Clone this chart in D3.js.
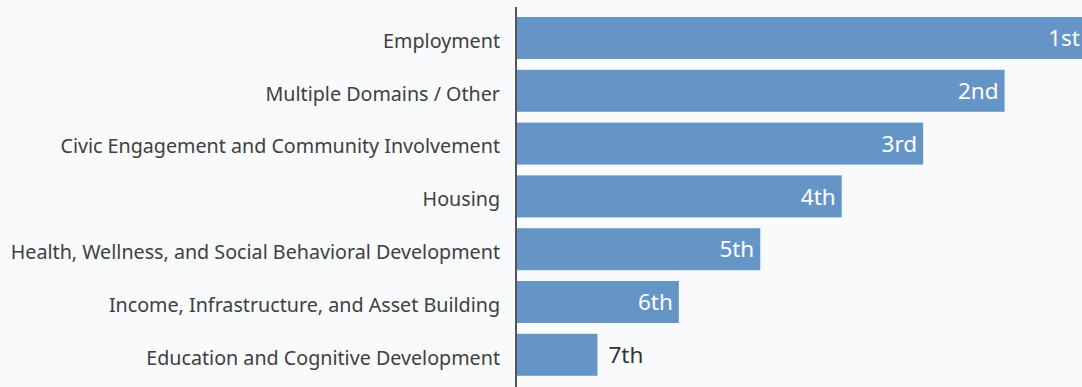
<!DOCTYPE html>
<html>
<head>
<meta charset="utf-8">
<script src="https://cdn.jsdelivr.net/npm/d3@7"></script>
<style>
  html, body { margin: 0; padding: 0; background: #f8fafc; }
  svg { display: block; }
</style>
</head>
<body>
<svg id="chart" width="1082" height="387"></svg>
<script>
// Domains, their relative scores and rank labels
const categories = [
  "Employment",
  "Multiple Domains / Other",
  "Civic Engagement and Community Involvement",
  "Housing",
  "Health, Wellness, and Social Behavioral Development",
  "Income, Infrastructure, and Asset Building",
  "Education and Cognitive Development"
];
const scores = [7, 6, 5, 4, 3, 2, 1];
const rankLabels = ["1st", "2nd", "3rd", "4th", "5th", "6th", "7th"];

const W = 1082, H = 387;
const axisX = 516;
const svg = d3.select("#chart");
const g = svg.append("g").attr("transform", `translate(${axisX},0)`);

const data = categories.map((c, i) => ({ cat: c, score: scores[i], rank: rankLabels[i] }));

const x = d3.scaleLinear().domain([0, 7]).range([0, 570]);
const y = d3.scaleBand().domain(categories).range([11.6, 381.2]).paddingInner(0.205).paddingOuter(0.1025);

const barColor = "#6595c7";
const font = "'Noto Sans', 'Open Sans', sans-serif";

g.selectAll("rect.bar")
  .data(data)
  .join("rect")
  .attr("class", "bar")
  .attr("x", 0)
  .attr("y", d => y(d.cat))
  .attr("width", d => x(d.score))
  .attr("height", y.bandwidth())
  .attr("fill", barColor);

// Rank labels: inside the bar when it is wide enough, otherwise just past its end
g.selectAll("text.rank")
  .data(data)
  .join("text")
  .attr("class", "rank")
  .attr("x", d => x(d.score) > 120 ? x(d.score) - 6 : x(d.score) + 11)
  .attr("y", d => y(d.cat) + y.bandwidth() / 2)
  .attr("dy", "0.36em")
  .attr("text-anchor", d => x(d.score) > 120 ? "end" : "start")
  .attr("fill", d => x(d.score) > 120 ? "#ffffff" : "#333333")
  .style("font-family", font)
  .style("font-size", "22.5px")
  .text(d => d.rank);

// Category axis: a plain vertical rule with labels
const axis = g.append("g")
  .call(d3.axisLeft(y).tickSize(0).tickPadding(16));
axis.select(".domain")
  .attr("d", `M0,7V${H}`)
  .attr("stroke", "#555")
  .attr("stroke-width", 2);
axis.selectAll(".tick text")
  .attr("fill", "#404040")
  .attr("dy", "0.5em")
  .style("font-family", font)
  .style("font-size", "19.7px");
</script>
</body>
</html>
